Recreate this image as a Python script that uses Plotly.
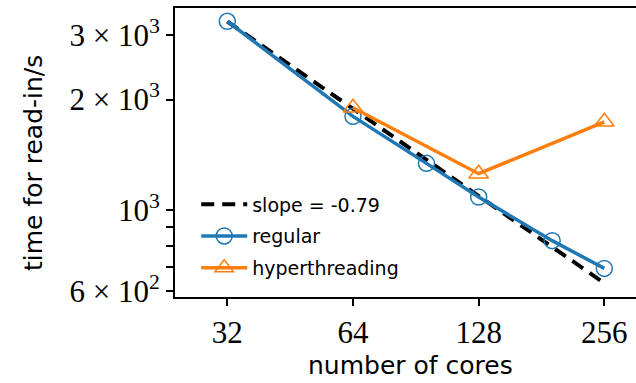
import numpy as np
import plotly.graph_objects as go

# measured read-in times (seconds) vs. number of cores
cores_regular = [32, 64, 96, 128, 192, 256]
time_regular = [3270, 1800, 1340, 1085, 825, 693]

cores_hyper = [64, 128, 256]
time_hyper = [1900, 1256, 1740]

# power-law fit shown as a reference line
fit_slope = -0.79
fit_at_32 = 3265
fit_cores = [32, 256]
fit_time = [fit_at_32 * (c / 32) ** fit_slope for c in fit_cores]

xtick_vals = [32, 64, 128, 256]
xtick_text = ["32", "64", "128", "256"]
ytick_vals = [600, 1000, 2000, 3000]
ytick_text = ["6 × 10<sup>2</sup>", "10<sup>3</sup>",
              "2 × 10<sup>3</sup>", "3 × 10<sup>3</sup>"]
yminor_vals = [700, 800, 900]

BLUE = "#1f77b4"
ORANGE = "#ff7f0e"
SANS = "DejaVu Sans"
SERIF = "Liberation Serif"

fig = go.Figure()

fig.add_trace(go.Scatter(
    x=fit_cores, y=fit_time, mode="lines",
    name="slope = -0.79", legendgroup="a",
    line=dict(color="black", width=4, dash="13px,8px"),
))
fig.add_trace(go.Scatter(
    x=cores_regular, y=time_regular, mode="lines+markers",
    name="regular", legendgroup="b",
    line=dict(color=BLUE, width=3.5),
    marker=dict(symbol="circle-open", size=16, color=BLUE, line=dict(width=1.5, color=BLUE)),
))
fig.add_trace(go.Scatter(
    x=cores_hyper, y=time_hyper, mode="lines+markers",
    name="hyperthreading", legendgroup="c",
    line=dict(color=ORANGE, width=3.5),
    marker=dict(symbol="triangle-up-open", size=17, color=ORANGE, line=dict(width=1.5, color=ORANGE)),
))

fig.update_layout(
    width=636, height=383,
    margin=dict(l=175, r=0, t=8, b=86),
    plot_bgcolor="white", paper_bgcolor="white",
    showlegend=True,
    legend=dict(
        x=0.046, y=0.386, xanchor="left", yanchor="top",
        bgcolor="rgba(0,0,0,0)",
        font=dict(family=SANS, size=19, color="black"),
        tracegroupgap=4, itemwidth=46,
    ),
    xaxis=dict(
        type="log", range=[1.3799, 2.4841],
        tickvals=xtick_vals, ticktext=xtick_text,
        ticks="outside", ticklen=7, tickwidth=1.5, tickcolor="black",
        showline=True, linecolor="black", linewidth=2, mirror=True,
        showgrid=False, zeroline=False,
        tickfont=dict(family=SERIF, size=31, color="black"),
    ),
    yaxis=dict(
        type="log", range=[2.7628, 3.5507],
        tickvals=ytick_vals, ticktext=ytick_text,
        ticks="outside", ticklen=7, tickwidth=1.5, tickcolor="black",
        minor=dict(tickvals=yminor_vals, ticks="outside", ticklen=7,
                   tickwidth=1.5, tickcolor="black", showgrid=False),
        showline=True, linecolor="black", linewidth=2, mirror=False,
        showgrid=False, zeroline=False,
        tickfont=dict(family=SERIF, size=31, color="black"),
    ),
    annotations=[
        dict(text="number of cores", xref="paper", yref="paper",
             x=(410 - 175) / 461, y=-(366 - 297) / 289,
             xanchor="center", yanchor="middle", showarrow=False,
             font=dict(family=SANS, size=25, color="black")),
        dict(text="time for read-in/s", xref="paper", yref="paper",
             x=-(175 - 33) / 461, y=(297 - 163) / 289, textangle=-90,
             xanchor="center", yanchor="middle", showarrow=False,
             font=dict(family=SANS, size=25, color="black")),
    ],
)

fig.write_html("out.html")
